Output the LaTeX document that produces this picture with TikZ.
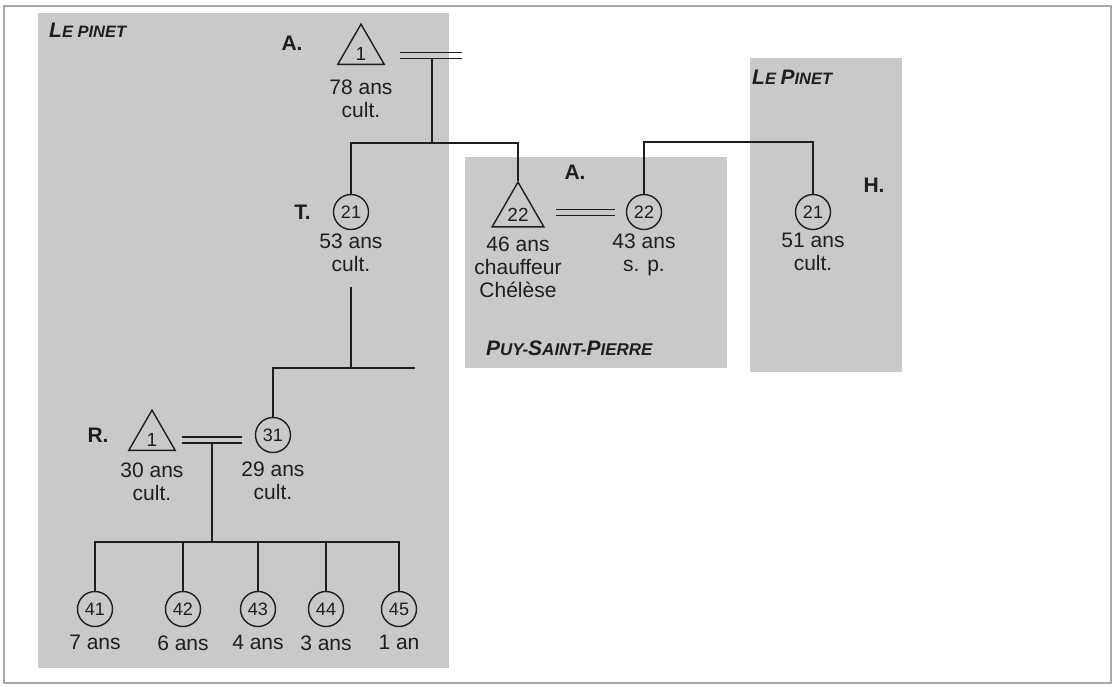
\documentclass[tikz,border=0pt]{standalone}
\usepackage{fontspec}
\setmainfont{Liberation Sans}
\usetikzlibrary{positioning,shapes.geometric,calc}
\definecolor{placegray}{HTML}{C9C9CC}
\definecolor{ink}{HTML}{1E1E1E}
\definecolor{edge}{HTML}{A8A8A8}

\tikzset{
  fem/.style={circle,draw=ink,line width=1.4pt,minimum size=35pt,inner sep=0pt,
    font=\fontsize{18}{18}\selectfont,text=ink},
  masc/.style={regular polygon,regular polygon sides=3,draw=ink,line width=1.4pt,
    minimum size=48pt,inner sep=0pt,text height=19pt,text depth=0pt,
    font=\fontsize{19}{19}\selectfont,text=ink},
  info/.style={align=center,inner sep=0pt,font=\fontsize{21}{23}\selectfont,text=ink},
  initial/.style={inner sep=0pt,font=\fontsize{21}{21}\selectfont\bfseries,text=ink},
  place/.style={inner sep=0pt,anchor=west,font=\fontsize{16.5}{16.5}\selectfont\bfseries\itshape,text=ink},
  link/.style={draw=ink,line width=1.3pt}
}
% two thin strokes for a marriage
\newcommand{\wedlock}[2]{%
  \draw[link] ($(#1)+(0,-3)$) -- ($(#2)+(0,-3)$);
  \draw[link] ($(#1)+(0,3)$) -- ($(#2)+(0,3)$);}
\newcommand{\capsL}[1]{{\fontsize{21}{21}\selectfont #1}}

\begin{document}
\begin{tikzpicture}[x=1pt,y=-1pt]
  \useasboundingbox (0,0) rectangle (1117,686);
  % places
  \fill[placegray] (38,13) rectangle (449,668);
  \fill[placegray] (465,157) rectangle (727,368);
  \fill[placegray] (750,58) rectangle (902,372);
  \draw[edge,line width=1.2pt] (4,6) rectangle (1111,683);

  \node[place] (pin1) at (49,30) {\capsL{L}E PINET};
  \node[place] (pin2) at (752,77) {\capsL{L}E \capsL{P}INET};
  \node[place,font=\fontsize{17}{17}\selectfont\bfseries\itshape] (puy) at (486,348)
    {\capsL{P}UY-\capsL{S}AINT-\capsL{P}IERRE};

  % first generation
  \node[masc] (a1) at (361,51) {1};
  \node[initial] (lblA1) at (292,43) {A.};
  \node[info,below=14pt of a1] (a1txt) {78 ans\\cult.};
  \coordinate (m1a) at (400,55.5);
  \coordinate (m1b) at (462,55.5);
  \coordinate (m1) at (432,58.5);
  \coordinate (sib1) at (432,143);
  \wedlock{m1a}{m1b}
  \draw[link] (m1) -- (sib1);

  % second generation
  \node[fem] (t21) at (351,212) {21};
  \node[initial,left=22pt of t21] (lblT) {T.};
  \node[info,below=3pt of t21] (t21txt) {53 ans\\cult.};

  \node[masc] (a22) at (518,212) {22};
  \node[info,below=8.5pt of a22] (a22txt) {46 ans\\chauffeur\\Chélèse};
  \node[fem] (w22) at (644,212) {22};
  \node[info,below=3pt of w22] (w22txt) {43 ans\\s. p.};
  \node[initial] (lblA2) at (575,172) {A.};
  \coordinate (m3a) at (556,212.5);
  \coordinate (m3b) at (615,212.5);
  \wedlock{m3a}{m3b}

  \node[fem] (h21) at (813,212) {21};
  \node[info,below=3pt of h21] (h21txt) {51 ans\\cult.};
  \node[initial] (lblH) at (874,185) {H.};
  \coordinate (sib2) at (813,142);

  \draw[link] (t21.north) |- (sib1) -| (a22.corner 1);
  \draw[link] (w22.north) |- (sib2) -- (h21.north);

  % third generation
  \coordinate (sib3) at (351,368);
  \coordinate (sib3e) at (415,368);
  \node[fem] (w31) at (273,435) {31};
  \node[info,below=8pt of w31] (w31txt) {29 ans\\cult.};
  \node[masc] (r1) at (152,437) {1};
  \node[initial] (lblR) at (98,435) {R.};
  \node[info,below=11.5pt of r1] (r1txt) {30 ans\\cult.};
  \draw[link,shorten <=16pt] (t21txt.south) -- (sib3);
  \draw[link] (w31.north) |- (sib3e);
  \coordinate (m2a) at (182,440);
  \coordinate (m2b) at (242,440);
  \coordinate (m2) at (212,443);
  \coordinate (sib4) at (212,542);
  \wedlock{m2a}{m2b}
  \draw[link] (m2) -- (sib4);

  % children
  \foreach \num/\x/\age in {41/95/7 ans,42/183/6 ans,43/258/4 ans,44/326/3 ans,45/399/1 an}{
    \node[fem] (c\num) at (\x,609) {\num};
    \node[info,below=8pt of c\num] (c\num txt) {\age};
    \draw[link] (c\num.north) |- (sib4);
  }
\end{tikzpicture}
\end{document}
